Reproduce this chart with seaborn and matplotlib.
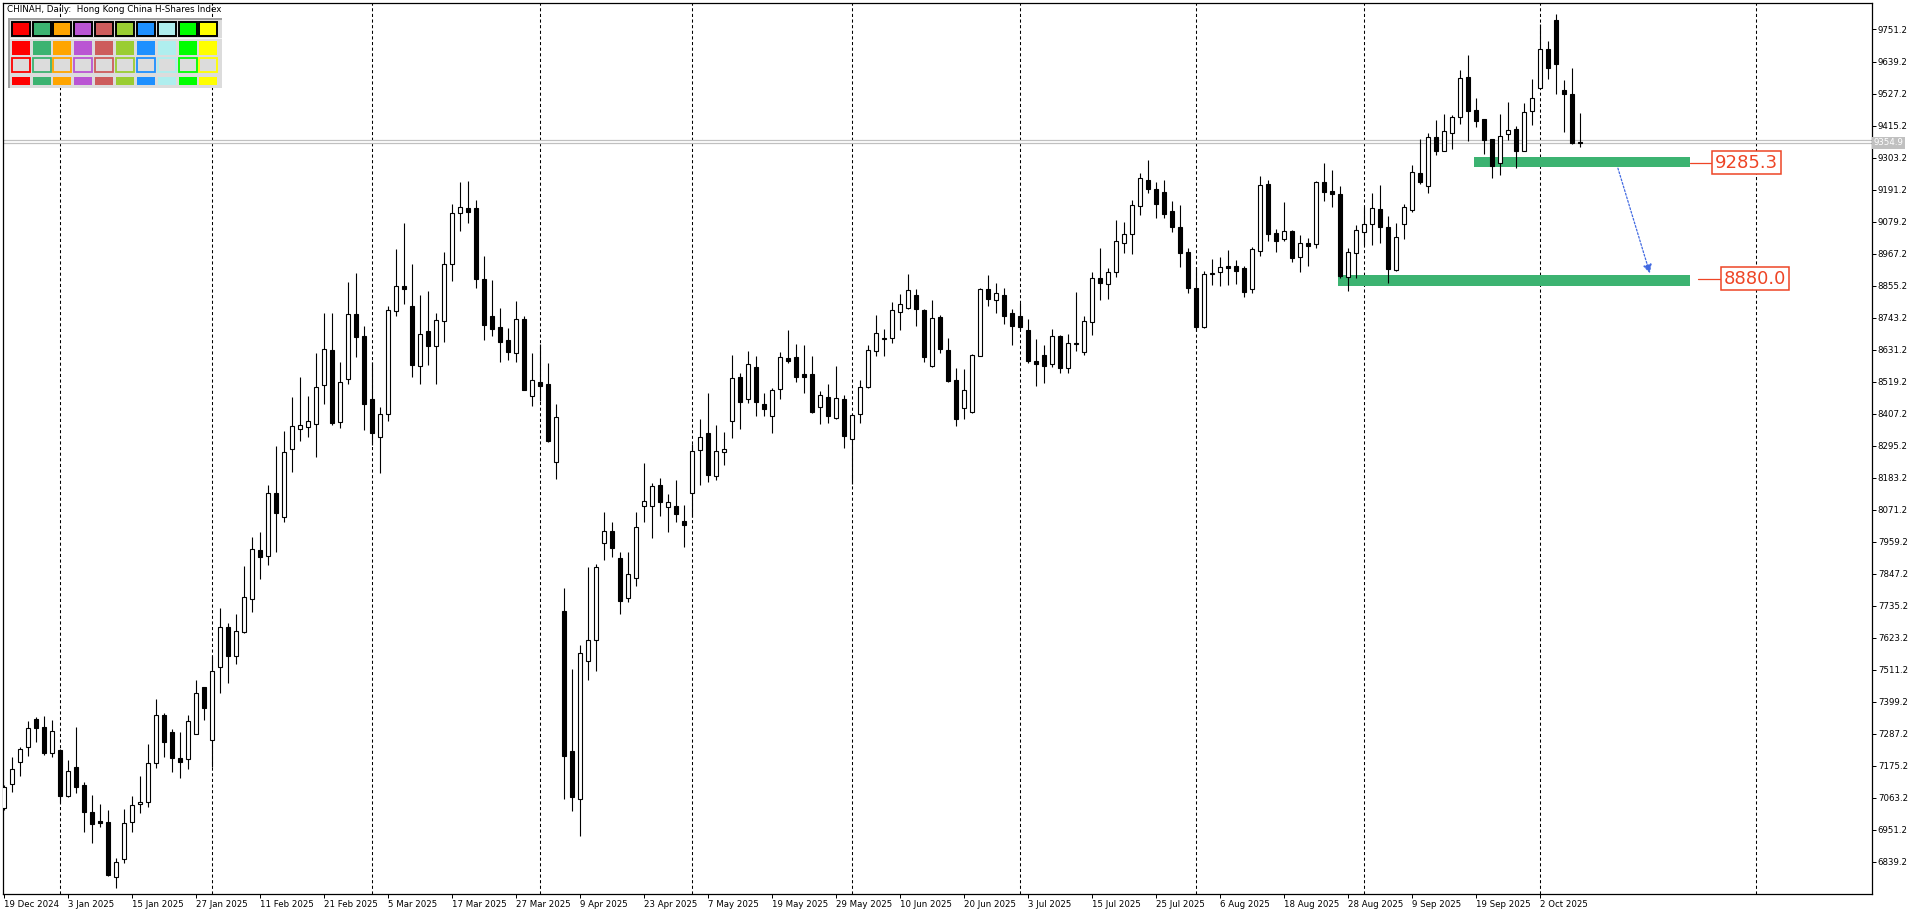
import numpy as np
import pandas as pd
import matplotlib
matplotlib.use('Agg')
import matplotlib.pyplot as plt
from matplotlib.patches import Rectangle
import seaborn as sns

# --- dados ---------------------------------------------------------------
first_day = '2024-12-19'
last_day = '2025-10-10'
holidays = ['2024-12-25', '2024-12-26', '2025-01-01', '2025-01-29', '2025-01-30',
            '2025-01-31', '2025-04-04', '2025-04-18', '2025-04-21', '2025-05-01',
            '2025-05-05', '2025-07-01', '2025-10-01', '2025-10-07']

opens = [7027, 7111, 7190, 7240, 7338, 7310, 7219, 7231, 7070, 7170,
         7109, 7013, 6983, 6978, 6786, 6848, 6978, 7041, 7050, 7184,
         7353, 7295, 7202, 7198, 7286, 7450, 7266, 7520, 7662, 7560,
         7645, 7758, 7931, 7910, 8129, 8045, 8283, 8353, 8362, 8370,
         8506, 8630, 8377, 8527, 8755, 8679, 8457, 8327, 8405, 8768,
         8854, 8784, 8575, 8697, 8645, 8733, 8930, 9110, 9126, 9126,
         8878, 8749, 8709, 8665, 8618, 8737, 8470, 8517, 8512, 8238,
         7718, 7228, 7060, 7543, 7617, 7955, 7997, 7901, 7763, 7833,
         8084, 8086, 8159, 8082, 8084, 8033, 8129, 8280, 8341, 8188,
         8273, 8381, 8536, 8458, 8571, 8441, 8399, 8493, 8603, 8606,
         8546, 8546, 8430, 8465, 8393, 8458, 8318, 8405, 8502, 8628,
         8668, 8671, 8764, 8778, 8821, 8769, 8575, 8744, 8629, 8525,
         8428, 8414, 8610, 8842, 8804, 8821, 8758, 8749, 8700, 8592,
         8613, 8580, 8679, 8566, 8656, 8624, 8729, 8883, 8862, 8904,
         9006, 9035, 9135, 9225, 9193, 9183, 9116, 9059, 8972, 8846,
         8712, 8895, 8902, 8924, 8924, 8917, 8842, 8975, 9210, 9038,
         9017, 9046, 8954, 9003, 9000, 9217, 9186, 9175, 8884, 8968,
         9042, 9070, 9122, 9059, 8910, 9070, 9120, 9248, 9205, 9374,
         9327, 9390, 9446, 9584, 9470, 9437, 9367, 9283, 9384, 9402,
         9327, 9467, 9548, 9682, 9784, 9540, 9524, 9358]
highs = [7109, 7205, 7243, 7332, 7345, 7350, 7336, 7235, 7196, 7313,
         7118, 7074, 7042, 7021, 6852, 7025, 7070, 7140, 7252, 7409,
         7362, 7304, 7295, 7353, 7476, 7450, 7560, 7726, 7674, 7705,
         7875, 7975, 7992, 8158, 8294, 8347, 8467, 8537, 8469, 8621,
         8758, 8758, 8589, 8868, 8898, 8714, 8587, 8432, 8784, 8983,
         9075, 8930, 8822, 8836, 8758, 8972, 9141, 9218, 9221, 9155,
         8959, 8875, 8778, 8706, 8801, 8749, 8621, 8651, 8584, 8442,
         7798, 7515, 7598, 7872, 7882, 8064, 8030, 7925, 7922, 8064,
         8234, 8165, 8182, 8126, 8177, 8089, 8300, 8390, 8481, 8366,
         8344, 8614, 8551, 8627, 8609, 8481, 8496, 8624, 8700, 8652,
         8648, 8609, 8487, 8511, 8574, 8473, 8405, 8525, 8648, 8753,
         8704, 8797, 8826, 8896, 8842, 8772, 8805, 8753, 8671, 8566,
         8564, 8616, 8847, 8892, 8863, 8847, 8772, 8796, 8737, 8669,
         8648, 8704, 8683, 8687, 8832, 8749, 8904, 8988, 8918, 9085,
         9079, 9155, 9250, 9295, 9217, 9225, 9151, 9137, 8986, 8922,
         8906, 8948, 8954, 8980, 8945, 8924, 8989, 9239, 9225, 9052,
         9148, 9050, 9031, 9021, 9222, 9283, 9260, 9204, 8986, 9067,
         9131, 9180, 9207, 9099, 9076, 9141, 9277, 9367, 9390, 9435,
         9456, 9452, 9610, 9662, 9510, 9437, 9368, 9456, 9498, 9414,
         9495, 9577, 9770, 9711, 9805, 9575, 9615, 9458]
lows = [7021, 7085, 7140, 7211, 7260, 7213, 7208, 7044, 7065, 7082,
        6945, 6907, 6960, 6790, 6747, 6835, 6945, 7010, 7033, 7169,
        7208, 7155, 7132, 7163, 7286, 7336, 7173, 7431, 7466, 7531,
        7641, 7715, 7828, 7878, 7925, 8030, 8204, 8313, 8325, 8257,
        8441, 8368, 8358, 8510, 8607, 8350, 8298, 8199, 8383, 8749,
        8791, 8537, 8511, 8578, 8511, 8658, 8871, 9046, 9075, 8848,
        8665, 8679, 8589, 8595, 8589, 8490, 8434, 8453, 8309, 8178,
        7060, 7016, 6931, 7477, 7508, 7895, 7905, 7705, 7748, 7804,
        8028, 7972, 8048, 7995, 8030, 7942, 8047, 8157, 8167, 8177,
        8229, 8321, 8352, 8443, 8400, 8400, 8341, 8460, 8583, 8518,
        8479, 8411, 8371, 8376, 8390, 8288, 8160, 8376, 8496, 8610,
        8610, 8656, 8700, 8775, 8715, 8589, 8570, 8621, 8519, 8365,
        8390, 8411, 8610, 8785, 8761, 8722, 8648, 8700, 8586, 8505,
        8514, 8570, 8551, 8551, 8627, 8613, 8683, 8805, 8809, 8887,
        8971, 8966, 9102, 9178, 9093, 9093, 9044, 8922, 8831, 8698,
        8706, 8857, 8854, 8857, 8861, 8817, 8831, 8960, 9013, 8974,
        9013, 8939, 8904, 8925, 8986, 9152, 9129, 8881, 8838, 8881,
        8997, 8997, 9006, 8863, 8905, 9017, 9112, 9211, 9178, 9312,
        9325, 9332, 9420, 9362, 9409, 9316, 9233, 9242, 9365, 9266,
        9325, 9417, 9547, 9578, 9526, 9394, 9351, 9341]
closes = [7103, 7163, 7233, 7307, 7307, 7219, 7297, 7071, 7157, 7103,
          7015, 6971, 6977, 6794, 6838, 6974, 7037, 7048, 7184, 7353,
          7260, 7202, 7190, 7332, 7429, 7379, 7507, 7662, 7560, 7648,
          7767, 7933, 7905, 8129, 8059, 8272, 8364, 8367, 8381, 8500,
          8632, 8376, 8517, 8755, 8677, 8440, 8341, 8405, 8769, 8854,
          8845, 8579, 8686, 8645, 8735, 8930, 9108, 9129, 9114, 8880,
          8719, 8705, 8659, 8624, 8737, 8490, 8525, 8505, 8313, 8396,
          7209, 7066, 7571, 7614, 7872, 7997, 7936, 7752, 7845, 8010,
          8103, 8153, 8098, 8097, 8056, 8017, 8278, 8326, 8194, 8278,
          8284, 8533, 8447, 8581, 8447, 8422, 8490, 8606, 8593, 8537,
          8537, 8414, 8472, 8400, 8461, 8330, 8403, 8500, 8630, 8688,
          8672, 8769, 8790, 8839, 8772, 8607, 8741, 8632, 8523, 8390,
          8490, 8611, 8842, 8810, 8828, 8750, 8715, 8712, 8593, 8580,
          8575, 8679, 8568, 8653, 8650, 8733, 8883, 8866, 8902, 9011,
          9036, 9137, 9231, 9192, 9140, 9107, 9062, 8968, 8848, 8712,
          8895, 8898, 8919, 8918, 8908, 8834, 8982, 9206, 9035, 9013,
          9046, 8951, 9003, 8995, 9217, 9182, 9175, 8889, 8972, 9050,
          9070, 9128, 9061, 8912, 9027, 9129, 9252, 9219, 9374, 9327,
          9395, 9444, 9580, 9467, 9432, 9365, 9275, 9379, 9400, 9327,
          9464, 9510, 9682, 9618, 9631, 9524, 9355, 9354.9]

bid_price = 9354.9
ask_price = 9362.9
future_separator_bar = 219

# zonas de suporte (preco do rotulo, topo, base, barra inicial)
zone_labels = [9285.3, 8880.0]
zone_tops = [9304, 8891]
zone_bottoms = [9271, 8855]
zone_starts = [183.8, 166.8]
zone_end = 210.8
label_line_starts = [210.8, 211.8]
label_text_x = [213.9, 215.0]

arrow_from = (201.8, 9266)
arrow_to = (205.8, 8898)

palette = ['#FF0000', '#3CB371', '#FFA500', '#BA55D3', '#CD5C5C',
           '#9ACD32', '#1E90FF', '#AFEEEE', '#00FF00', '#FFFF00']

W, H = 1920, 915


def trading_days():
    days = pd.bdate_range(first_day, last_day)
    return days[~days.isin(pd.to_datetime(holidays))]


def fig_rect(fig, x, y, w, h, **kw):
    """Retangulo em pixels da figura (origem no canto superior esquerdo)."""
    fig.patches.append(Rectangle((x / W, 1 - (y + h) / H), w / W, h / H,
                                 transform=fig.transFigure, **kw))


def draw_palette(fig):
    fig_rect(fig, 8, 18, 214, 70, facecolor='#DCDCDC', edgecolor='none')
    fig_rect(fig, 8, 18, 214, 1.5, facecolor='#A0A0A0', edgecolor='none')
    fig_rect(fig, 8, 18, 1.5, 70, facecolor='#A0A0A0', edgecolor='none')
    fig_rect(fig, 9.5, 38, 212, 1, facecolor='#F4F4F4', edgecolor='none')
    for i, c in enumerate(palette):
        x = 11.7 + i * 20.85
        fig_rect(fig, x, 22, 18, 13.5, facecolor=c, edgecolor='black', linewidth=1.4)
        fig_rect(fig, x, 40.7, 18, 14.3, facecolor=c, edgecolor='none')
        fig_rect(fig, x, 58.2, 18, 13.3, facecolor='#DCDCDC', edgecolor=c, linewidth=1.3)
        fig_rect(fig, x, 76.7, 18, 8.3, facecolor=c, edgecolor='none')


def plot_candles(ax, dates):
    n = len(closes)
    x = np.arange(n)
    o = np.array(opens, dtype=float)
    c = np.array(closes, dtype=float)
    ax.vlines(x, lows, highs, color='black', linewidth=0.8, zorder=3)
    up = c >= o
    ax.bar(x[up], np.maximum(c[up] - o[up], 2), bottom=o[up], width=0.5,
           facecolor='white', edgecolor='black', linewidth=0.8, zorder=4)
    ax.bar(x[~up], np.maximum(o[~up] - c[~up], 2), bottom=c[~up], width=0.5,
           facecolor='black', edgecolor='black', linewidth=0.8, zorder=4)


sns.set_theme(style='white')
plt.rcParams['font.family'] = ['DejaVu Sans']

dates = trading_days()
fig = plt.figure(figsize=(W / 100, H / 100), dpi=100)
ax = fig.add_axes([2.5 / W, 1 - 894 / H, (1872 - 2.5) / W, (894 - 2.5) / H])

# separadores mensais
sep_bars = [i for i in range(1, len(dates)) if dates[i].month != dates[i - 1].month]
for b in sep_bars + [future_separator_bar]:
    ax.axvline(b, color='black', linewidth=0.75, linestyle=(0, (3, 2.4)), zorder=1)

# linhas de bid / ask
for p in (bid_price, ask_price):
    ax.axhline(p, color='#C0C0C0', linewidth=0.9, zorder=2)

# zonas verdes
for top, bot, start in zip(zone_tops, zone_bottoms, zone_starts):
    ax.add_patch(Rectangle((start, bot), zone_end - start, top - bot,
                           facecolor='#3CB371', edgecolor='none', zorder=2))

plot_candles(ax, dates)

label_color = '#EE4526'
for lvl, x0, tx in zip(zone_labels, label_line_starts, label_text_x):
    ax.plot([x0, tx - 0.35], [lvl, lvl], color=label_color, linewidth=0.9, zorder=5)
    ax.text(tx, lvl, f'{lvl:.1f}', color=label_color, fontsize=13, ha='left', va='center',
            zorder=6, bbox=dict(boxstyle='square,pad=0.15', facecolor='white',
                                edgecolor=label_color, linewidth=1.1))

ax.annotate('', xy=arrow_to, xytext=arrow_from, zorder=6,
            arrowprops=dict(arrowstyle='-|>', color='#4169E1', linewidth=0.9,
                            linestyle=(0, (1.5, 1.5)), mutation_scale=13,
                            shrinkA=0, shrinkB=0))

# eixos
ax.set_xlim(-0.125, 233.56)
ax.set_ylim(6727.2, 9845.6)
tick_bars = list(range(0, len(dates), 8))
ax.set_xticks(tick_bars)
ax.set_xticklabels([f'{dates[i].day} {dates[i]:%b %Y}' for i in tick_bars], ha='left')
price_ticks = np.arange(6839.2, 9800, 112)
ax.yaxis.tick_right()
ax.set_yticks(price_ticks)
ax.set_yticklabels([f'{v:.1f}' for v in price_ticks])
ax.tick_params(axis='x', bottom=True, direction='out', length=3, width=0.72,
               pad=1.5, labelsize=6.2, colors='black')
ax.tick_params(axis='y', right=True, left=False, direction='out', length=3, width=0.72,
               pad=1.2, labelsize=6.2, colors='black')
for s in ax.spines.values():
    s.set_color('black')
    s.set_linewidth(0.9)
ax.grid(False)

ax.text(1.001, bid_price, f'{bid_price:.1f}', transform=ax.get_yaxis_transform(),
        fontsize=6.2, color='white', ha='left', va='center', zorder=7,
        bbox=dict(boxstyle='square,pad=0.2', facecolor='#C0C0C0', edgecolor='none'))

fig.text(7 / W, 1 - 9 / H, 'CHINAH, Daily:  Hong Kong China H-Shares Index',
         fontsize=6.3, color='black', ha='left', va='center')
draw_palette(fig)

fig.savefig('out.png', dpi=100, facecolor='white')
